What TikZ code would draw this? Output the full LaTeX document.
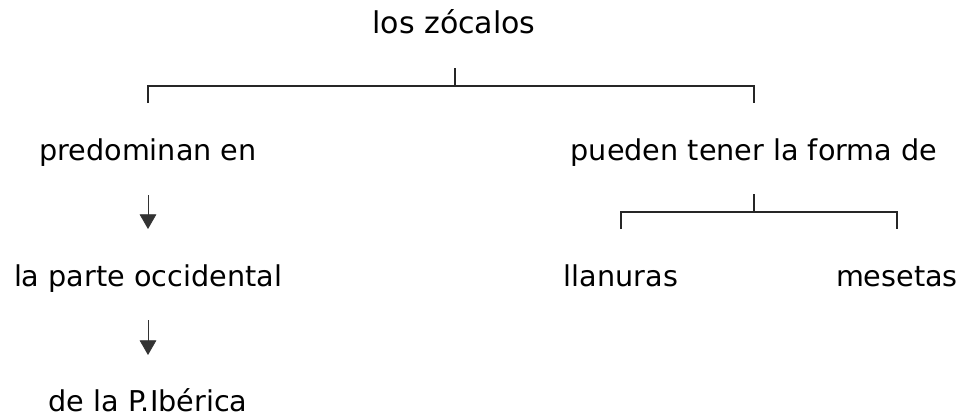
\documentclass[tikz,border=0pt]{standalone}
\usepackage{fontspec}
\setmainfont{DejaVu Sans}
\usetikzlibrary{arrows.meta}

\begin{document}
\begin{tikzpicture}[x=0.75pt,y=-0.75pt,
  txt/.style={anchor=base,inner sep=0pt,font=\fontsize{21.5}{25}\selectfont},
  tree/.style={line width=0.8pt,draw=black!85},
  down/.style={-{Triangle[width=12.5pt,length=11pt]},line width=0.6pt,draw=black!80}]
\useasboundingbox (0,0) rectangle (961,418);

\node[txt,font=\fontsize{22.5}{26}\selectfont] (zocalos) at (454,33) {los zócalos};
\node[txt] (pred) at (148,160) {predominan en};
\node[txt] (forma) at (754,160) {pueden tener la forma de};
\node[txt] (occ) at (148,286) {la parte occidental};
\node[txt] (llan) at (621,286) {llanuras};
\node[txt] (mes) at (897,286) {mesetas};
\node[txt] (iber) at (148,411) {de la P.Ibérica};

\coordinate (top1) at (455,68);
\coordinate (mid1) at (455,86);
\coordinate (left1) at (148,103);
\coordinate (right1) at (754,103);

\coordinate (top2) at (754,194);
\coordinate (mid2) at (754,212);
\coordinate (left2) at (621,229);
\coordinate (right2) at (897,229);

\coordinate (a1) at (148,195);
\coordinate (b1) at (148,229);
\coordinate (a2) at (148,320);
\coordinate (b2) at (148,355);

\draw[tree] (top1) -- (mid1);
\draw[tree] (left1) |- (mid1) -| (right1);
\draw[tree] (top2) -- (mid2);
\draw[tree] (left2) |- (mid2) -| (right2);

\draw[down] (a1) -- (b1);
\draw[down] (a2) -- (b2);
\end{tikzpicture}
\end{document}
